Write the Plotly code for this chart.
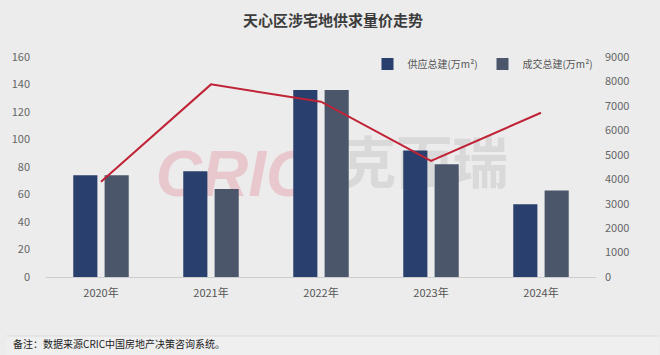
import plotly.graph_objects as go

years = ["2020年", "2021年", "2022年", "2023年", "2024年"]
supply = [74, 77, 136, 92, 53]
deal = [74, 64, 136, 82, 63]
price = [3900, 7880, 7170, 4750, 6720]
left_ticks = [0, 20, 40, 60, 80, 100, 120, 140, 160]
right_ticks = [0, 1000, 2000, 3000, 4000, 5000, 6000, 7000, 8000, 9000]

W, H = 660, 355
L, R, T, B = 40, 64, 57, 78
pw, ph = W - L - R, H - T - B

def px(x):
    return (x - L) / pw

def py(y):
    return (H - B - y) / ph

FONT = "Noto Sans CJK SC"

fig = go.Figure()
fig.add_trace(go.Bar(x=years, y=supply, name="供应总建(万m²)", marker_color="#293f6d",
                     marker_line_width=0, yaxis="y"))
fig.add_trace(go.Bar(x=years, y=deal, name="成交总建(万m²)", marker_color="#4b566a",
                     marker_line_width=0, yaxis="y"))
fig.add_trace(go.Scatter(x=years, y=price, mode="lines", line=dict(color="#c02236", width=2),
                         yaxis="y2", showlegend=False, name="价格"))

shapes = [
    dict(type="rect", xref="paper", yref="paper", x0=px(0), x1=px(W), y0=py(H), y1=py(336),
         fillcolor="#efefef", line_width=0, layer="below"),
    dict(type="line", xref="paper", yref="paper", x0=px(0), x1=px(W), y0=py(336), y1=py(336),
         line=dict(color="#dddddd", width=1), layer="below"),
    dict(type="rect", xref="paper", yref="paper", x0=px(130), x1=px(330), y0=py(192), y1=py(143),
         fillcolor="rgba(0,0,0,0)", line_width=0, layer="below",
         label=dict(text="<b><i>CRIC</i></b>", font=dict(size=64, color="#e8c8cd", family="Liberation Sans"))),
    dict(type="rect", xref="paper", yref="paper", x0=px(335), x1=px(510), y0=py(194), y1=py(141),
         fillcolor="rgba(0,0,0,0)", line_width=0, layer="below",
         label=dict(text="<b>克而瑞</b>", font=dict(size=56, color="#d9d9d9", family=FONT))),
]

annotations = [
    dict(text="<b>天心区涉宅地供求量价走势</b>", xref="paper", yref="paper", x=px(330), y=py(20),
         xanchor="center", yanchor="middle", showarrow=False,
         font=dict(size=15, color="#3c3c3c", family=FONT)),
    dict(text="备注：数据来源CRIC中国房地产决策咨询系统。", xref="paper", yref="paper", x=px(5), y=py(343),
         xanchor="left", yanchor="middle", showarrow=False,
         font=dict(size=10, color="#222222", family=FONT)),
]

fig.update_layout(
    width=W, height=H,
    margin=dict(l=L, r=R, t=T, b=B),
    paper_bgcolor="#ececec", plot_bgcolor="#ececec",
    barmode="group", bargap=0.43, bargroupgap=0.23,
    font=dict(family=FONT, color="#555555", size=11),
    shapes=shapes, annotations=annotations,
    legend=dict(orientation="h", x=px(365), y=py(64), xanchor="left", yanchor="middle",
                bgcolor="rgba(0,0,0,0)", font=dict(size=10, color="#555555", family=FONT),
                itemwidth=30, entrywidth=70, entrywidthmode="pixels", tracegroupgap=0),
    xaxis=dict(showline=True, linecolor="#cccccc", linewidth=1, ticks="", showgrid=False,
               tickfont=dict(size=11, color="#555555"), ticklabelstandoff=6),
    yaxis=dict(range=[0, 160], tickvals=left_ticks, showgrid=False, zeroline=False,
               showline=False, tickfont=dict(size=11, color="#666666"), ticklabelstandoff=15),
    yaxis2=dict(range=[0, 9000], tickvals=right_ticks, overlaying="y", side="right",
                showgrid=False, zeroline=False, showline=False,
                tickfont=dict(size=11, color="#666666"), ticklabelstandoff=8),
)

fig.write_html("out.html", config={"displayModeBar": False},
               post_script="document.body.style.margin='0';")
